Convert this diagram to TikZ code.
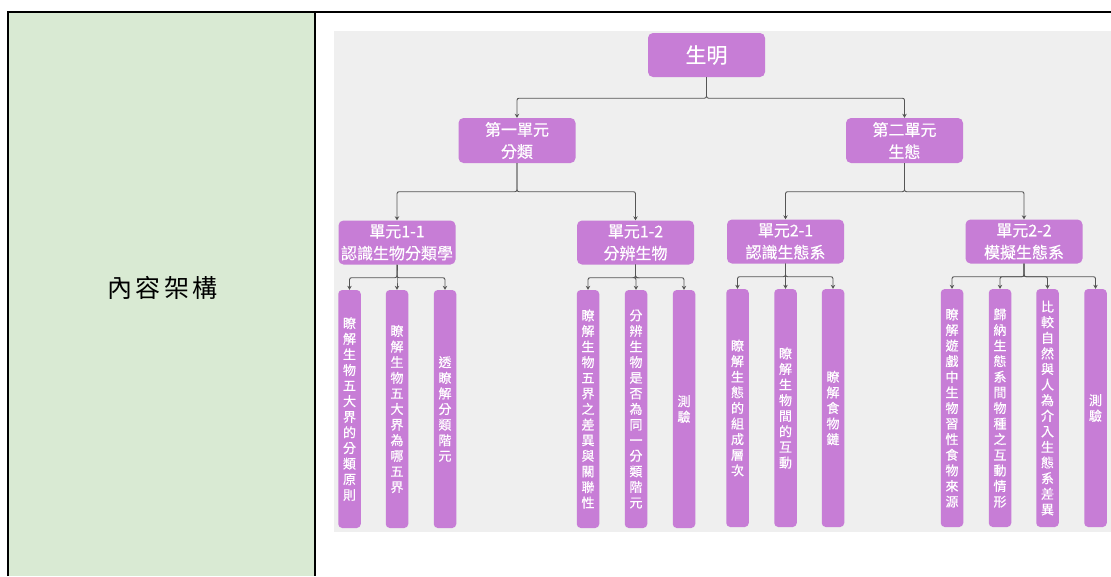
\documentclass[tikz,border=0pt]{standalone}
\usepackage{fontspec}
\setmainfont{Noto Sans CJK TC}
\newfontfamily\boxfont[FakeBold=0.5]{Noto Sans CJK TC}
\usetikzlibrary{arrows.meta}
\definecolor{cellgreen}{HTML}{D9EAD3}
\definecolor{panelgray}{HTML}{EFEFEF}
\definecolor{nodepurple}{HTML}{C77DD6}
\definecolor{linegray}{HTML}{555555}
\tikzset{
  unitbox/.style={fill=nodepurple, rounded corners=5pt, inner sep=0pt, align=center,
    text=white, font=\boxfont\fontsize{16}{22}\selectfont, minimum width=117pt, minimum height=44pt},
  rootbox/.style={unitbox, font=\boxfont\fontsize{21}{24}\selectfont},
  leafbox/.style={fill=nodepurple, rounded corners=4pt, inner sep=0pt, align=center,
    text=white, text width=14pt, font=\boxfont\fontsize{13}{15.6}\selectfont,
    minimum width=22.5pt, minimum height=238pt},
  conn/.style={draw=linegray, line width=0.9pt, rounded corners=2pt,
    -{Stealth[length=4pt,width=4.5pt]}},
  rule/.style={draw=black, line width=2pt}
}
\begin{document}
\begin{tikzpicture}[x=1pt,y=-1pt]
\useasboundingbox (0,0) rectangle (1111,576);
% table
\fill[cellgreen] (8,12) rectangle (315,576);
\fill[panelgray] (334,31) rectangle (1111,532);
\draw[rule] (8,576) -- (8,12) -- (1111,12);
\draw[rule] (315,12) -- (315,576);
\node[font=\fontsize{25}{28}\selectfont, text=black] (title) at (162.5,288)
  {內\hspace{3.5pt}容\hspace{3.5pt}架\hspace{3.5pt}構};
% tree nodes
\node[rootbox] (root) at (706.5,55) {生明};
\node[unitbox, minimum height=45pt] (u1) at (517,140.5) {第一單元\\分類};
\node[unitbox, minimum height=45pt] (u2) at (904.5,140.5) {第二單元\\生態};
\node[unitbox] (s11) at (397,242.5) {單元1-1\\認識生物分類學};
\node[unitbox] (s12) at (635.5,242.5) {單元1-2\\分辨生物};
\node[unitbox] (s21) at (785.5,241.5) {單元2-1\\認識生態系};
\node[unitbox] (s22) at (1024,241.5) {單元2-2\\模擬生態系};
% leaves
\node[leafbox] (l1) at (349.5,409) {瞭\\解\\生\\物\\五\\大\\界\\的\\分\\類\\原\\則};
\node[leafbox] (l2) at (397,409) {瞭\\解\\生\\物\\五\\大\\界\\為\\哪\\五\\界};
\node[leafbox] (l3) at (445,409) {透\\瞭\\解\\分\\類\\階\\元};
\node[leafbox] (l4) at (588,409) {瞭\\解\\生\\物\\五\\界\\之\\差\\異\\與\\關\\聯\\性};
\node[leafbox] (l5) at (636,409) {分\\辨\\生\\物\\是\\否\\為\\同\\一\\分\\類\\階\\元};
\node[leafbox] (l6) at (684,409) {測\\驗};
\node[leafbox] (l7) at (737.5,408) {瞭\\解\\生\\態\\的\\組\\成\\層\\次};
\node[leafbox] (l8) at (785.5,408) {瞭\\解\\生\\物\\間\\的\\互\\動};
\node[leafbox] (l9) at (833,408) {瞭\\解\\食\\物\\鏈};
\node[leafbox] (l10) at (952,408) {瞭\\解\\遊\\戲\\中\\生\\物\\習\\性\\食\\物\\來\\源};
\node[leafbox] (l11) at (1000,408) {歸\\納\\生\\態\\系\\間\\物\\種\\之\\互\\動\\情\\形};
\node[leafbox] (l12) at (1047.5,408) {比\\較\\自\\然\\與\\人\\為\\介\\入\\生\\態\\系\\差\\異};
\node[leafbox] (l13) at (1095.5,408) {測\\驗};
% connectors
\foreach \c in {u1,u2} \draw[conn] (root.south) -- ++(0,21) -| (\c.north);
\foreach \c in {s11,s12} \draw[conn] (u1.south) -- ++(0,28.5) -| (\c.north);
\foreach \c in {s21,s22} \draw[conn] (u2.south) -- ++(0,28.5) -| (\c.north);
\foreach \c in {l1,l2,l3} \draw[conn] (s11.south) -- ++(0,13) -| (\c.north);
\foreach \c in {l4,l5,l6} \draw[conn] (s12.south) -- ++(0,13) -| (\c.north);
\foreach \c in {l7,l8,l9} \draw[conn] (s21.south) -- ++(0,13) -| (\c.north);
\foreach \c in {l10,l11,l12,l13} \draw[conn] (s22.south) -- ++(0,13) -| (\c.north);
\end{tikzpicture}
\end{document}
